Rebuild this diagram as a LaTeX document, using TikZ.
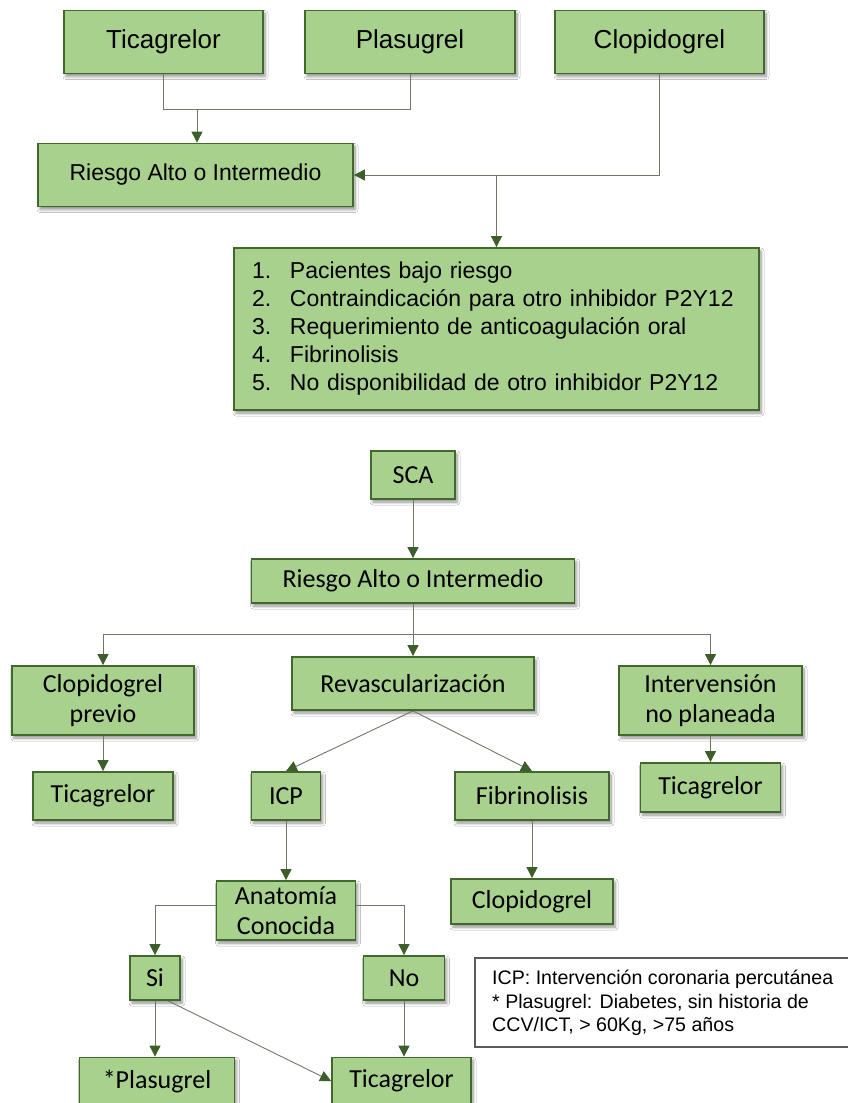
\documentclass[tikz,border=0pt]{standalone}
\usepackage{fontspec}
\setmainfont{Liberation Sans}
\newfontfamily\calf{Carlito}
\usetikzlibrary{arrows.meta,shadows.blur,calc}
\definecolor{gfill}{HTML}{A9D18E}
\definecolor{gborder}{HTML}{43682B}
\definecolor{lgray}{HTML}{6F7868}
\definecolor{agreen}{HTML}{3E5E29}
\definecolor{nborder}{HTML}{5A5A5A}
\begin{document}
\begin{tikzpicture}[x=1pt,y=-1pt,
 gbox/.style={draw=gborder, line width=1.8pt, fill=gfill, inner sep=0pt, text=black,
   blur shadow={shadow xshift=2pt, shadow yshift=-3pt, shadow blur steps=6, shadow opacity=45, shadow blur radius=3pt}},
 topf/.style={font=\fontsize{26}{30}\selectfont},
 riskf/.style={font=\fontsize{23}{28}\selectfont},
 botf/.style={font=\calf\fontsize{26}{30}\selectfont, align=center},
 conn/.style={draw=lgray, line width=0.9pt},
 arr/.style={conn, -{Triangle[width=11pt,length=11pt,color=agreen]}},
]
\fill[white] (0,0) rectangle (847,1103);
\useasboundingbox (0,0) rectangle (847,1103);

% ---- top section ----
\node[gbox, topf, minimum width=199pt, minimum height=63pt] (tica1) at (163.5,42) {Ticagrelor};
\node[gbox, topf, minimum width=210pt, minimum height=63pt] (plas1) at (410,42) {Plasugrel};
\node[gbox, topf, minimum width=209pt, minimum height=63pt] (clop1) at (659.5,42) {Clopidogrel};
\node[gbox, riskf, minimum width=315pt, minimum height=63pt] (riesgo1) at (195.5,175) {Riesgo Alto o Intermedio};
\node[gbox, riskf, minimum width=525pt, minimum height=162pt, align=left, text width=489pt, inner xsep=18pt] (list) at (496.5,329)
 {\makebox[38pt][l]{1.}Pacientes bajo riesgo\\
  \makebox[38pt][l]{2.}Contraindicación para otro inhibidor P2Y12\\
  \makebox[38pt][l]{3.}Requerimiento de anticoagulación oral\\
  \makebox[38pt][l]{4.}Fibrinolisis\\
  \makebox[38pt][l]{5.}No disponibilidad de otro inhibidor P2Y12};

\coordinate (j1) at (197,109);
\draw[conn] (tica1.south) -- (tica1.south |- j1) -- (plas1.south |- j1) -- (plas1.south);
\draw[arr] (j1) -- (j1 |- riesgo1.north);
\draw[arr] (clop1.south) |- (riesgo1.east);
\coordinate (j2) at (riesgo1.east -| list.north);
\draw[arr] (j2) -- (list.north);

% ---- bottom section ----
\node[gbox, botf, minimum width=84pt, minimum height=48pt] (sca) at (413,475) {SCA};
\node[gbox, botf, minimum width=323pt, minimum height=44pt] (riesgo2) at (413,581) {Riesgo Alto o Intermedio};
\node[gbox, botf, minimum width=182pt, minimum height=69pt] (cprev) at (103,700.5) {Clopidogrel\\previo};
\node[gbox, botf, minimum width=242pt, minimum height=53pt] (revasc) at (413,683.5) {Revascularización};
\node[gbox, botf, minimum width=183pt, minimum height=69pt] (interv) at (710.5,700.5) {Intervensión\\no planeada};
\node[gbox, botf, minimum width=140pt, minimum height=48pt] (tica2) at (103,796) {Ticagrelor};
\node[gbox, botf, minimum width=69pt, minimum height=48pt] (icp) at (286,796) {ICP};
\node[gbox, botf, minimum width=154pt, minimum height=48pt] (fibr) at (532,796) {Fibrinolisis};
\node[gbox, botf, minimum width=140pt, minimum height=49pt] (tica3) at (710.5,787.5) {Ticagrelor};
\node[gbox, botf, minimum width=162pt, minimum height=45pt] (clop2) at (532,901.5) {Clopidogrel};
\node[gbox, botf, minimum width=139pt, minimum height=59pt] (anat) at (286,910.5) {Anatomía\\Conocida};
\node[gbox, botf, minimum width=50pt, minimum height=44pt] (si) at (155,978) {Si};
\node[gbox, botf, minimum width=81pt, minimum height=44pt] (no) at (404,978) {No};
\node[gbox, botf, minimum width=155pt, minimum height=47pt] (plas2) at (157,1081) {*Plasugrel};
\node[gbox, botf, minimum width=139pt, minimum height=47pt] (tica4) at (401.5,1081) {Ticagrelor};

\node[draw=nborder, line width=1.2pt, fill=white, minimum width=374pt, minimum height=89pt, inner sep=0pt] (note) at (662,1002.5) {};
\node[anchor=west, align=left, inner sep=0pt, font=\fontsize{19.6}{23.5}\selectfont] (notetext) at (492,1003)
 {ICP: Intervención coronaria percutánea\\
  * Plasugrel: Diabetes, sin historia de\\
  CCV/ICT, > 60Kg, >75 años};

\coordinate (b1) at (413,634);
\draw[arr] (sca.south) -- (riesgo2.north);
\draw[arr] (riesgo2.south) -- (revasc.north);
\draw[arr] (b1) -| (cprev.north);
\draw[arr] (b1) -| (interv.north);
\draw[arr] (cprev.south) -- (tica2.north);
\draw[arr] (interv.south) -- (tica3.north);
\draw[arr] (revasc.south) -- (icp.north);
\draw[arr] (revasc.south) -- (fibr.north);
\draw[arr] (icp.south) -- (anat.north);
\draw[arr] (fibr.south) -- (clop2.north);
\draw[arr] ([yshift=5pt]anat.west) -| (si.north);
\draw[arr] ([yshift=5pt]anat.east) -| (no.north);
\draw[arr] (si.south) -- (si.south |- plas2.north);
\draw[arr] (no.south) -- (no.south |- tica4.north);
\draw[arr] (si.-60) -- (tica4.west);
\end{tikzpicture}
\end{document}
